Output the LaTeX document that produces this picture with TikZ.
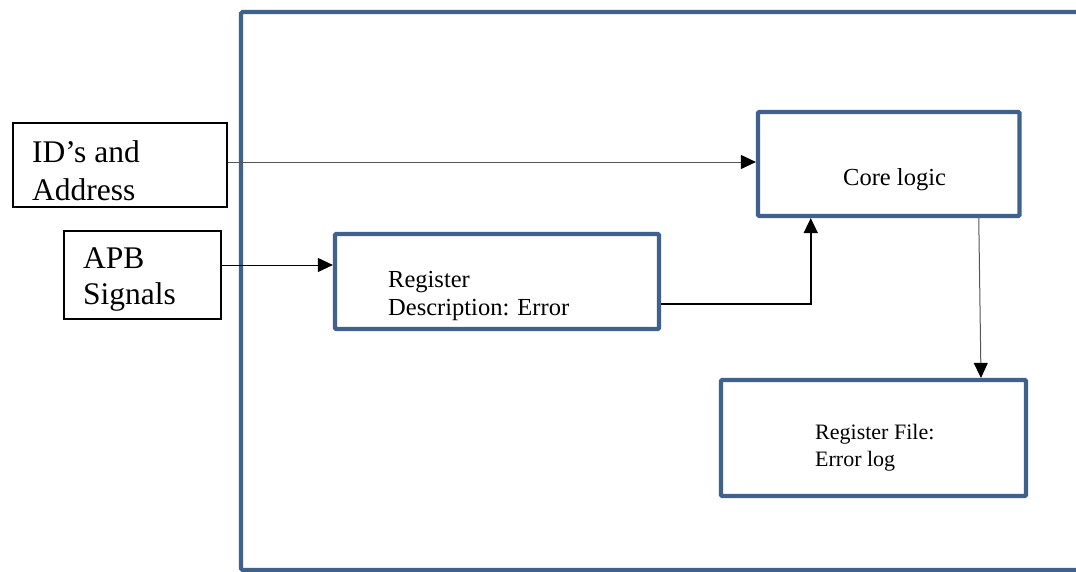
\documentclass[tikz,border=0pt]{standalone}
\usepackage{fontspec}
\setmainfont{Liberation Serif}
\usetikzlibrary{arrows.meta}
\definecolor{frameblue}{HTML}{3F618C}
\definecolor{thingray}{HTML}{555555}
\begin{document}
\begin{tikzpicture}[x=1pt,y=-1pt,
  blackbox/.style={draw=black,line width=2.2pt,inner sep=0pt},
  bluebox/.style={draw=frameblue,line width=4.2pt,inner sep=0pt,rounded corners=1pt},
  framestyle/.style={draw=frameblue,line width=4.2pt,rounded corners=1.5pt},
  lbl/.style={anchor=base west,inner sep=0pt,text=black},
  bigtxt/.style={lbl,font=\fontsize{31.5}{36}\selectfont},
  midtxt/.style={lbl,font=\fontsize{24.5}{30}\selectfont},
  smalltxt/.style={lbl,font=\fontsize{22}{28}\selectfont},
  arr/.style={-{Triangle[length=15pt,width=14pt,color=black]}},
]
\useasboundingbox (0,0) rectangle (1076,571);

% outer frame (open on the right, cut by the page edge)
\draw[framestyle] (1095,12) -- (241,12) -- (241,570) -- (1095,570);

% boxes
\node[blackbox, minimum width=214pt, minimum height=84pt] (idbox) at (120,165) {};
\node[blackbox, minimum width=157pt, minimum height=88pt] (apb) at (142.5,275) {};
\node[bluebox, minimum width=324pt, minimum height=95pt] (reg) at (497,281.5) {};
\node[bluebox, minimum width=261.5pt, minimum height=104pt] (core) at (888.75,164) {};
\node[bluebox, minimum width=305pt, minimum height=116pt] (regfile) at (873.5,438) {};

% texts
\node[bigtxt] (idt1) at (32,162) {ID’s and};
\node[bigtxt] (idt2) at (32,200) {Address};
\node[bigtxt] (apbt1) at (83,268) {APB};
\node[bigtxt] (apbt2) at (83,304) {Signals};
\node[midtxt] (regt1) at (388,287) {Register};
\node[midtxt] (regt2) at (388,315) {Description: Error};
\node[midtxt] (coret) at (843,185) {Core logic};
\node[smalltxt] (rft1) at (815,439) {Register File:};
\node[smalltxt] (rft2) at (815,466) {Error log};

% connectors
\coordinate (idout) at ([yshift=3pt]idbox.east);
\draw[arr, draw=thingray, line width=1pt] (idout) -- (idout -| core.west);

\coordinate (apbout) at ([yshift=10pt]apb.east);
\draw[arr, draw=black, line width=1pt] (apbout) -- (apbout -| reg.west);

\coordinate (regout) at ([yshift=-22.5pt]reg.east);
\coordinate (corein) at ([xshift=-78pt]core.south);
\draw[arr, draw=black, line width=1.6pt] (regout) -| (corein);

\coordinate (coreout) at ([xshift=90pt]core.south);
\coordinate (rfin) at ([xshift=107.5pt]regfile.north);
\draw[arr, draw=thingray, line width=1pt] (coreout) -- (rfin);
\end{tikzpicture}
\end{document}
